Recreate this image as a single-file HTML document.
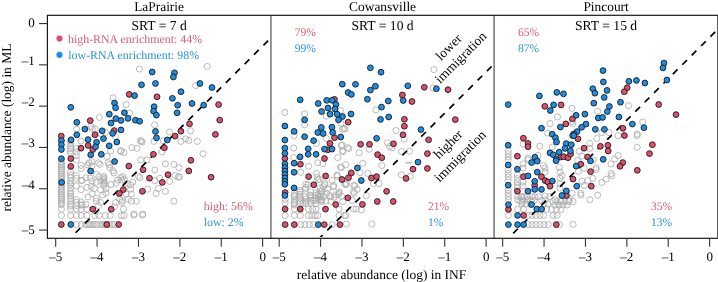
<!DOCTYPE html><html><head><meta charset="utf-8"><style>html,body{margin:0;padding:0;background:#fff}svg{display:block;will-change:transform}text{font-family:"Liberation Serif",serif;text-rendering:geometricPrecision}</style></head><body>
<svg width="718" height="282" viewBox="0 0 718 282">
<g fill="none" stroke="#ADADAD" stroke-width="0.85">
<circle cx="139.4" cy="69.0" r="3.05"/>
<circle cx="207.2" cy="66.5" r="3.05"/>
<circle cx="195.7" cy="85.6" r="3.05"/>
<circle cx="113.1" cy="97.8" r="3.05"/>
<circle cx="126.2" cy="104.6" r="3.05"/>
<circle cx="129.6" cy="113.1" r="3.05"/>
<circle cx="99.4" cy="117.4" r="3.05"/>
<circle cx="154.6" cy="124.9" r="3.05"/>
<circle cx="169.5" cy="132.0" r="3.05"/>
<circle cx="190.5" cy="130.8" r="3.05"/>
<circle cx="180.9" cy="141.4" r="3.05"/>
<circle cx="185.6" cy="138.9" r="3.05"/>
<circle cx="188.8" cy="140.4" r="3.05"/>
<circle cx="197.3" cy="141.4" r="3.05"/>
<circle cx="163.3" cy="140.8" r="3.05"/>
<circle cx="140.4" cy="140.7" r="3.05"/>
<circle cx="142.2" cy="142.1" r="3.05"/>
<circle cx="131.9" cy="147.6" r="3.05"/>
<circle cx="136.9" cy="148.3" r="3.05"/>
<circle cx="140.6" cy="159.9" r="3.05"/>
<circle cx="147.0" cy="159.9" r="3.05"/>
<circle cx="161.8" cy="152.0" r="3.05"/>
<circle cx="165.4" cy="163.8" r="3.05"/>
<circle cx="173.9" cy="164.4" r="3.05"/>
<circle cx="178.9" cy="167.7" r="3.05"/>
<circle cx="154.8" cy="170.0" r="3.05"/>
<circle cx="138.4" cy="176.2" r="3.05"/>
<circle cx="122.8" cy="176.6" r="3.05"/>
<circle cx="175.3" cy="175.5" r="3.05"/>
<circle cx="179.6" cy="176.9" r="3.05"/>
<circle cx="141.3" cy="141.4" r="3.05"/>
<circle cx="159.7" cy="178.3" r="3.05"/>
<circle cx="154.0" cy="141.4" r="3.05"/>
<circle cx="203.1" cy="153.8" r="3.05"/>
<circle cx="139.9" cy="177.8" r="3.05"/>
<circle cx="124.3" cy="179.3" r="3.05"/>
<circle cx="132.8" cy="182.1" r="3.05"/>
<circle cx="130.6" cy="185.0" r="3.05"/>
<circle cx="130.6" cy="189.2" r="3.05"/>
<circle cx="131.3" cy="194.1" r="3.05"/>
<circle cx="147.7" cy="189.2" r="3.05"/>
<circle cx="154.8" cy="180.7" r="3.05"/>
<circle cx="158.3" cy="188.5" r="3.05"/>
<circle cx="156.2" cy="193.4" r="3.05"/>
<circle cx="165.4" cy="191.3" r="3.05"/>
<circle cx="169.6" cy="181.4" r="3.05"/>
<circle cx="178.2" cy="177.1" r="3.05"/>
<circle cx="173.9" cy="201.2" r="3.05"/>
<circle cx="131.3" cy="201.2" r="3.05"/>
<circle cx="136.3" cy="201.2" r="3.05"/>
<circle cx="122.1" cy="200.5" r="3.05"/>
<circle cx="123.5" cy="209.0" r="3.05"/>
<circle cx="134.2" cy="214.0" r="3.05"/>
<circle cx="142.7" cy="214.0" r="3.05"/>
<circle cx="133.7" cy="215.1" r="3.05"/>
<circle cx="142.5" cy="215.1" r="3.05"/>
<circle cx="61.4" cy="161.5" r="3.05"/>
<circle cx="61.4" cy="163.3" r="3.05"/>
<circle cx="61.4" cy="165.1" r="3.05"/>
<circle cx="61.4" cy="166.9" r="3.05"/>
<circle cx="61.4" cy="168.7" r="3.05"/>
<circle cx="61.4" cy="170.5" r="3.05"/>
<circle cx="61.4" cy="172.3" r="3.05"/>
<circle cx="61.4" cy="174.1" r="3.05"/>
<circle cx="61.4" cy="175.9" r="3.05"/>
<circle cx="61.4" cy="177.7" r="3.05"/>
<circle cx="61.4" cy="179.5" r="3.05"/>
<circle cx="61.4" cy="181.3" r="3.05"/>
<circle cx="61.4" cy="183.1" r="3.05"/>
<circle cx="61.4" cy="184.9" r="3.05"/>
<circle cx="61.4" cy="186.7" r="3.05"/>
<circle cx="61.4" cy="188.5" r="3.05"/>
<circle cx="61.4" cy="190.3" r="3.05"/>
<circle cx="61.4" cy="192.1" r="3.05"/>
<circle cx="61.4" cy="193.9" r="3.05"/>
<circle cx="61.4" cy="195.7" r="3.05"/>
<circle cx="61.4" cy="197.5" r="3.05"/>
<circle cx="61.4" cy="199.3" r="3.05"/>
<circle cx="61.4" cy="201.1" r="3.05"/>
<circle cx="61.4" cy="202.9" r="3.05"/>
<circle cx="61.4" cy="204.7" r="3.05"/>
<circle cx="61.4" cy="209.2" r="3.05"/>
<circle cx="61.4" cy="215.4" r="3.05"/>
<circle cx="70.6" cy="141.0" r="3.05"/>
<circle cx="70.6" cy="143.5" r="3.05"/>
<circle cx="70.6" cy="146.0" r="3.05"/>
<circle cx="70.6" cy="148.5" r="3.05"/>
<circle cx="70.6" cy="151.0" r="3.05"/>
<circle cx="70.6" cy="153.5" r="3.05"/>
<circle cx="70.6" cy="171.8" r="3.05"/>
<circle cx="70.6" cy="175.0" r="3.05"/>
<circle cx="70.6" cy="177.7" r="3.05"/>
<circle cx="70.6" cy="181.0" r="3.05"/>
<circle cx="70.6" cy="183.2" r="3.05"/>
<circle cx="70.6" cy="184.8" r="3.05"/>
<circle cx="70.6" cy="188.0" r="3.05"/>
<circle cx="70.6" cy="191.7" r="3.05"/>
<circle cx="70.6" cy="193.8" r="3.05"/>
<circle cx="70.6" cy="196.0" r="3.05"/>
<circle cx="70.6" cy="198.6" r="3.05"/>
<circle cx="70.6" cy="201.3" r="3.05"/>
<circle cx="70.6" cy="204.0" r="3.05"/>
<circle cx="70.6" cy="206.0" r="3.05"/>
<circle cx="70.6" cy="209.3" r="3.05"/>
<circle cx="70.6" cy="215.5" r="3.05"/>
<circle cx="76.4" cy="152.1" r="3.05"/>
<circle cx="76.4" cy="155.9" r="3.05"/>
<circle cx="76.4" cy="160.0" r="3.05"/>
<circle cx="76.4" cy="175.5" r="3.05"/>
<circle cx="76.4" cy="178.2" r="3.05"/>
<circle cx="76.4" cy="185.9" r="3.05"/>
<circle cx="76.4" cy="199.7" r="3.05"/>
<circle cx="76.4" cy="202.3" r="3.05"/>
<circle cx="76.4" cy="205.5" r="3.05"/>
<circle cx="76.4" cy="209.3" r="3.05"/>
<circle cx="76.4" cy="215.5" r="3.05"/>
<circle cx="76.4" cy="224.5" r="3.05"/>
<circle cx="81.1" cy="165.4" r="3.05"/>
<circle cx="81.1" cy="168.6" r="3.05"/>
<circle cx="81.1" cy="180.5" r="3.05"/>
<circle cx="81.1" cy="189.6" r="3.05"/>
<circle cx="81.1" cy="202.0" r="3.05"/>
<circle cx="81.1" cy="205.0" r="3.05"/>
<circle cx="81.1" cy="209.3" r="3.05"/>
<circle cx="81.1" cy="215.5" r="3.05"/>
<circle cx="81.1" cy="224.5" r="3.05"/>
<circle cx="89.1" cy="162.8" r="3.05"/>
<circle cx="88.0" cy="164.9" r="3.05"/>
<circle cx="85.9" cy="177.7" r="3.05"/>
<circle cx="87.0" cy="187.4" r="3.05"/>
<circle cx="88.0" cy="197.0" r="3.05"/>
<circle cx="85.9" cy="204.5" r="3.05"/>
<circle cx="82.2" cy="205.0" r="3.05"/>
<circle cx="87.0" cy="215.4" r="3.05"/>
<circle cx="87.0" cy="209.2" r="3.05"/>
<circle cx="85.5" cy="224.5" r="3.05"/>
<circle cx="91.8" cy="161.7" r="3.05"/>
<circle cx="91.8" cy="166.0" r="3.05"/>
<circle cx="90.2" cy="178.2" r="3.05"/>
<circle cx="92.1" cy="181.2" r="3.05"/>
<circle cx="91.2" cy="186.4" r="3.05"/>
<circle cx="92.3" cy="193.8" r="3.05"/>
<circle cx="94.3" cy="188.6" r="3.05"/>
<circle cx="89.0" cy="224.5" r="3.05"/>
<circle cx="93.0" cy="224.5" r="3.05"/>
<circle cx="98.5" cy="162.8" r="3.05"/>
<circle cx="100.1" cy="164.4" r="3.05"/>
<circle cx="96.4" cy="174.5" r="3.05"/>
<circle cx="99.0" cy="176.6" r="3.05"/>
<circle cx="96.4" cy="182.3" r="3.05"/>
<circle cx="100.6" cy="189.7" r="3.05"/>
<circle cx="96.4" cy="198.2" r="3.05"/>
<circle cx="100.6" cy="202.5" r="3.05"/>
<circle cx="98.5" cy="205.7" r="3.05"/>
<circle cx="94.8" cy="215.5" r="3.05"/>
<circle cx="99.1" cy="215.5" r="3.05"/>
<circle cx="97.0" cy="224.5" r="3.05"/>
<circle cx="100.5" cy="224.5" r="3.05"/>
<circle cx="107.0" cy="156.4" r="3.05"/>
<circle cx="102.8" cy="195.0" r="3.05"/>
<circle cx="106.0" cy="192.9" r="3.05"/>
<circle cx="106.0" cy="188.6" r="3.05"/>
<circle cx="105.3" cy="215.5" r="3.05"/>
<circle cx="104.0" cy="224.5" r="3.05"/>
<circle cx="110.7" cy="151.1" r="3.05"/>
<circle cx="108.1" cy="162.8" r="3.05"/>
<circle cx="109.7" cy="167.6" r="3.05"/>
<circle cx="112.9" cy="170.7" r="3.05"/>
<circle cx="113.9" cy="172.9" r="3.05"/>
<circle cx="111.3" cy="184.4" r="3.05"/>
<circle cx="115.5" cy="202.5" r="3.05"/>
<circle cx="114.5" cy="206.7" r="3.05"/>
<circle cx="110.3" cy="215.5" r="3.05"/>
<circle cx="112.0" cy="224.5" r="3.05"/>
<circle cx="115.0" cy="224.5" r="3.05"/>
<circle cx="109.0" cy="224.5" r="3.05"/>
<circle cx="120.9" cy="151.6" r="3.05"/>
<circle cx="116.1" cy="183.3" r="3.05"/>
<circle cx="117.7" cy="180.1" r="3.05"/>
<circle cx="121.9" cy="180.1" r="3.05"/>
<circle cx="119.8" cy="199.3" r="3.05"/>
<circle cx="121.9" cy="202.5" r="3.05"/>
<circle cx="121.4" cy="215.5" r="3.05"/>
<circle cx="124.0" cy="152.7" r="3.05"/>
<circle cx="127.2" cy="183.3" r="3.05"/>
<circle cx="126.2" cy="194.0" r="3.05"/>
<circle cx="128.3" cy="199.3" r="3.05"/>
<circle cx="124.0" cy="215.5" r="3.05"/>
<circle cx="76.7" cy="129.3" r="3.05"/>
<circle cx="92.3" cy="128.7" r="3.05"/>
<circle cx="76.8" cy="148.5" r="3.05"/>
<circle cx="81.0" cy="141.0" r="3.05"/>
<circle cx="101.0" cy="133.6" r="3.05"/>
<circle cx="109.4" cy="164.8" r="3.05"/>
<circle cx="120.8" cy="150.6" r="3.05"/>
<circle cx="120.8" cy="177.6" r="3.05"/>
<circle cx="96.4" cy="201.0" r="3.05"/>
<circle cx="100.6" cy="181.0" r="3.05"/>
<circle cx="104.5" cy="183.5" r="3.05"/>
<circle cx="82.2" cy="180.5" r="3.05"/>
<circle cx="103.8" cy="176.5" r="3.05"/>
<circle cx="103.8" cy="178.0" r="3.05"/>
<circle cx="103.8" cy="179.5" r="3.05"/>
<circle cx="103.8" cy="181.0" r="3.05"/>
<circle cx="103.8" cy="182.5" r="3.05"/>
<circle cx="103.8" cy="185.5" r="3.05"/>
<circle cx="87.5" cy="224.5" r="3.05"/>
<circle cx="90.5" cy="224.5" r="3.05"/>
<circle cx="95.0" cy="224.5" r="3.05"/>
<circle cx="102.5" cy="224.5" r="3.05"/>
<circle cx="105.5" cy="224.5" r="3.05"/>
<circle cx="107.0" cy="224.5" r="3.05"/>
<circle cx="61.4" cy="140.5" r="3.05"/>
<circle cx="91.0" cy="126.5" r="3.05"/>
<circle cx="95.0" cy="129.0" r="3.05"/>
<circle cx="105.5" cy="132.5" r="3.05"/>
<circle cx="115.5" cy="136.6" r="3.05"/>
<circle cx="284.8" cy="112.5" r="3.05"/>
<circle cx="304.6" cy="113.8" r="3.05"/>
<circle cx="375.9" cy="109.9" r="3.05"/>
<circle cx="340.4" cy="110.6" r="3.05"/>
<circle cx="326.2" cy="116.2" r="3.05"/>
<circle cx="304.6" cy="124.8" r="3.05"/>
<circle cx="341.0" cy="123.3" r="3.05"/>
<circle cx="343.9" cy="128.3" r="3.05"/>
<circle cx="294.1" cy="135.5" r="3.05"/>
<circle cx="316.4" cy="143.4" r="3.05"/>
<circle cx="326.3" cy="138.4" r="3.05"/>
<circle cx="342.6" cy="129.2" r="3.05"/>
<circle cx="341.2" cy="145.5" r="3.05"/>
<circle cx="347.6" cy="147.7" r="3.05"/>
<circle cx="342.6" cy="151.9" r="3.05"/>
<circle cx="337.7" cy="157.6" r="3.05"/>
<circle cx="293.7" cy="157.6" r="3.05"/>
<circle cx="293.7" cy="148.1" r="3.05"/>
<circle cx="396.1" cy="130.5" r="3.05"/>
<circle cx="345.0" cy="129.0" r="3.05"/>
<circle cx="433.9" cy="69.6" r="3.05"/>
<circle cx="433.1" cy="88.1" r="3.05"/>
<circle cx="404.2" cy="139.1" r="3.05"/>
<circle cx="342.1" cy="145.0" r="3.05"/>
<circle cx="348.8" cy="148.5" r="3.05"/>
<circle cx="342.8" cy="150.6" r="3.05"/>
<circle cx="359.1" cy="152.8" r="3.05"/>
<circle cx="369.1" cy="149.2" r="3.05"/>
<circle cx="362.7" cy="163.4" r="3.05"/>
<circle cx="345.7" cy="164.8" r="3.05"/>
<circle cx="341.4" cy="167.7" r="3.05"/>
<circle cx="381.8" cy="165.5" r="3.05"/>
<circle cx="367.7" cy="173.3" r="3.05"/>
<circle cx="387.5" cy="142.8" r="3.05"/>
<circle cx="389.6" cy="146.4" r="3.05"/>
<circle cx="391.8" cy="147.8" r="3.05"/>
<circle cx="409.5" cy="151.3" r="3.05"/>
<circle cx="359.9" cy="172.6" r="3.05"/>
<circle cx="401.4" cy="151.4" r="3.05"/>
<circle cx="401.4" cy="174.8" r="3.05"/>
<circle cx="308.6" cy="166.3" r="3.05"/>
<circle cx="300.8" cy="172.3" r="3.05"/>
<circle cx="316.4" cy="173.4" r="3.05"/>
<circle cx="317.8" cy="162.8" r="3.05"/>
<circle cx="322.8" cy="163.5" r="3.05"/>
<circle cx="340.5" cy="167.1" r="3.05"/>
<circle cx="337.0" cy="174.9" r="3.05"/>
<circle cx="332.0" cy="180.5" r="3.05"/>
<circle cx="317.8" cy="179.8" r="3.05"/>
<circle cx="307.9" cy="184.8" r="3.05"/>
<circle cx="305.0" cy="189.0" r="3.05"/>
<circle cx="300.1" cy="190.5" r="3.05"/>
<circle cx="324.9" cy="184.8" r="3.05"/>
<circle cx="327.7" cy="189.0" r="3.05"/>
<circle cx="333.4" cy="186.9" r="3.05"/>
<circle cx="339.1" cy="191.9" r="3.05"/>
<circle cx="344.8" cy="184.1" r="3.05"/>
<circle cx="322.1" cy="191.2" r="3.05"/>
<circle cx="346.4" cy="183.5" r="3.05"/>
<circle cx="354.9" cy="185.6" r="3.05"/>
<circle cx="357.1" cy="189.2" r="3.05"/>
<circle cx="354.2" cy="193.4" r="3.05"/>
<circle cx="366.3" cy="195.6" r="3.05"/>
<circle cx="373.4" cy="183.5" r="3.05"/>
<circle cx="379.0" cy="183.5" r="3.05"/>
<circle cx="353.5" cy="209.0" r="3.05"/>
<circle cx="356.3" cy="209.0" r="3.05"/>
<circle cx="361.3" cy="209.8" r="3.05"/>
<circle cx="410.2" cy="176.4" r="3.05"/>
<circle cx="344.3" cy="215.5" r="3.05"/>
<circle cx="346.4" cy="224.0" r="3.05"/>
<circle cx="371.8" cy="224.0" r="3.05"/>
<circle cx="300.8" cy="224.6" r="3.05"/>
<circle cx="305.0" cy="224.6" r="3.05"/>
<circle cx="309.3" cy="224.6" r="3.05"/>
<circle cx="313.6" cy="224.6" r="3.05"/>
<circle cx="332.3" cy="224.6" r="3.05"/>
<circle cx="285.1" cy="215.5" r="3.05"/>
<circle cx="294.3" cy="215.5" r="3.05"/>
<circle cx="300.3" cy="215.5" r="3.05"/>
<circle cx="308.4" cy="215.5" r="3.05"/>
<circle cx="311.9" cy="215.5" r="3.05"/>
<circle cx="315.3" cy="215.5" r="3.05"/>
<circle cx="317.8" cy="215.5" r="3.05"/>
<circle cx="339.1" cy="215.5" r="3.05"/>
<circle cx="345.9" cy="215.5" r="3.05"/>
<circle cx="294.3" cy="209.1" r="3.05"/>
<circle cx="308.4" cy="209.1" r="3.05"/>
<circle cx="312.7" cy="209.1" r="3.05"/>
<circle cx="316.1" cy="209.1" r="3.05"/>
<circle cx="339.1" cy="209.1" r="3.05"/>
<circle cx="285.1" cy="199.4" r="3.05"/>
<circle cx="285.1" cy="202.8" r="3.05"/>
<circle cx="294.3" cy="193.4" r="3.05"/>
<circle cx="294.3" cy="196.8" r="3.05"/>
<circle cx="294.3" cy="200.2" r="3.05"/>
<circle cx="294.3" cy="203.6" r="3.05"/>
<circle cx="305.0" cy="196.8" r="3.05"/>
<circle cx="310.0" cy="195.0" r="3.05"/>
<circle cx="313.6" cy="200.2" r="3.05"/>
<circle cx="318.7" cy="196.8" r="3.05"/>
<circle cx="322.0" cy="200.2" r="3.05"/>
<circle cx="327.0" cy="193.4" r="3.05"/>
<circle cx="330.6" cy="196.8" r="3.05"/>
<circle cx="335.7" cy="195.0" r="3.05"/>
<circle cx="339.0" cy="193.4" r="3.05"/>
<circle cx="303.0" cy="203.6" r="3.05"/>
<circle cx="316.0" cy="203.6" r="3.05"/>
<circle cx="294.2" cy="195.4" r="3.05"/>
<circle cx="294.2" cy="202.3" r="3.05"/>
<circle cx="294.2" cy="205.0" r="3.05"/>
<circle cx="300.0" cy="192.2" r="3.05"/>
<circle cx="300.0" cy="194.4" r="3.05"/>
<circle cx="300.0" cy="196.5" r="3.05"/>
<circle cx="300.0" cy="198.6" r="3.05"/>
<circle cx="300.0" cy="200.7" r="3.05"/>
<circle cx="300.0" cy="203.0" r="3.05"/>
<circle cx="305.9" cy="184.3" r="3.05"/>
<circle cx="305.9" cy="187.4" r="3.05"/>
<circle cx="305.9" cy="199.1" r="3.05"/>
<circle cx="305.9" cy="201.3" r="3.05"/>
<circle cx="305.9" cy="203.4" r="3.05"/>
<circle cx="310.7" cy="192.0" r="3.05"/>
<circle cx="310.7" cy="196.0" r="3.05"/>
<circle cx="310.7" cy="198.6" r="3.05"/>
<circle cx="310.7" cy="200.7" r="3.05"/>
<circle cx="310.7" cy="202.9" r="3.05"/>
<circle cx="316.0" cy="192.8" r="3.05"/>
<circle cx="316.0" cy="195.4" r="3.05"/>
<circle cx="316.0" cy="198.1" r="3.05"/>
<circle cx="316.0" cy="200.7" r="3.05"/>
<circle cx="320.5" cy="188.0" r="3.05"/>
<circle cx="320.5" cy="191.0" r="3.05"/>
<circle cx="320.5" cy="194.0" r="3.05"/>
<circle cx="320.5" cy="197.0" r="3.05"/>
<circle cx="320.5" cy="200.0" r="3.05"/>
<circle cx="319.3" cy="179.3" r="3.05"/>
<circle cx="333.6" cy="185.6" r="3.05"/>
<circle cx="324.6" cy="183.5" r="3.05"/>
<circle cx="323.5" cy="186.7" r="3.05"/>
<circle cx="318.2" cy="194.1" r="3.05"/>
<circle cx="318.2" cy="199.5" r="3.05"/>
<circle cx="323.5" cy="196.3" r="3.05"/>
<circle cx="329.9" cy="195.7" r="3.05"/>
<circle cx="334.1" cy="197.3" r="3.05"/>
<circle cx="338.4" cy="194.7" r="3.05"/>
<circle cx="341.6" cy="196.3" r="3.05"/>
<circle cx="345.9" cy="184.6" r="3.05"/>
<circle cx="353.8" cy="185.6" r="3.05"/>
<circle cx="353.3" cy="192.0" r="3.05"/>
<circle cx="352.2" cy="200.5" r="3.05"/>
<circle cx="342.7" cy="201.6" r="3.05"/>
<circle cx="325.6" cy="201.1" r="3.05"/>
<circle cx="331.0" cy="201.6" r="3.05"/>
<circle cx="321.4" cy="201.6" r="3.05"/>
<circle cx="317.1" cy="177.1" r="3.05"/>
<circle cx="337.3" cy="176.1" r="3.05"/>
<circle cx="628.5" cy="105.7" r="3.05"/>
<circle cx="557.5" cy="116.9" r="3.05"/>
<circle cx="572.0" cy="108.4" r="3.05"/>
<circle cx="550.0" cy="123.6" r="3.05"/>
<circle cx="597.6" cy="111.3" r="3.05"/>
<circle cx="572.8" cy="123.4" r="3.05"/>
<circle cx="642.7" cy="122.0" r="3.05"/>
<circle cx="609.0" cy="132.6" r="3.05"/>
<circle cx="637.3" cy="134.0" r="3.05"/>
<circle cx="547.6" cy="133.0" r="3.05"/>
<circle cx="539.7" cy="146.2" r="3.05"/>
<circle cx="523.1" cy="144.1" r="3.05"/>
<circle cx="508.2" cy="153.8" r="3.05"/>
<circle cx="528.0" cy="158.3" r="3.05"/>
<circle cx="538.0" cy="155.5" r="3.05"/>
<circle cx="572.0" cy="121.4" r="3.05"/>
<circle cx="552.2" cy="147.0" r="3.05"/>
<circle cx="596.8" cy="138.5" r="3.05"/>
<circle cx="589.8" cy="143.5" r="3.05"/>
<circle cx="589.8" cy="148.4" r="3.05"/>
<circle cx="579.1" cy="151.3" r="3.05"/>
<circle cx="582.0" cy="156.2" r="3.05"/>
<circle cx="577.7" cy="160.5" r="3.05"/>
<circle cx="593.3" cy="159.8" r="3.05"/>
<circle cx="601.8" cy="132.8" r="3.05"/>
<circle cx="618.1" cy="135.7" r="3.05"/>
<circle cx="618.1" cy="155.5" r="3.05"/>
<circle cx="614.6" cy="159.1" r="3.05"/>
<circle cx="611.0" cy="164.0" r="3.05"/>
<circle cx="559.3" cy="167.6" r="3.05"/>
<circle cx="596.1" cy="167.6" r="3.05"/>
<circle cx="637.2" cy="135.6" r="3.05"/>
<circle cx="637.2" cy="147.3" r="3.05"/>
<circle cx="543.6" cy="165.7" r="3.05"/>
<circle cx="562.1" cy="175.6" r="3.05"/>
<circle cx="528.0" cy="160.0" r="3.05"/>
<circle cx="596.2" cy="169.6" r="3.05"/>
<circle cx="611.1" cy="173.5" r="3.05"/>
<circle cx="611.8" cy="175.6" r="3.05"/>
<circle cx="606.2" cy="179.1" r="3.05"/>
<circle cx="601.9" cy="182.4" r="3.05"/>
<circle cx="592.7" cy="178.4" r="3.05"/>
<circle cx="587.7" cy="180.6" r="3.05"/>
<circle cx="582.1" cy="181.3" r="3.05"/>
<circle cx="584.2" cy="185.5" r="3.05"/>
<circle cx="578.5" cy="171.3" r="3.05"/>
<circle cx="584.2" cy="168.5" r="3.05"/>
<circle cx="580.6" cy="193.3" r="3.05"/>
<circle cx="597.7" cy="195.2" r="3.05"/>
<circle cx="572.1" cy="193.3" r="3.05"/>
<circle cx="589.9" cy="199.7" r="3.05"/>
<circle cx="581.0" cy="195.0" r="3.05"/>
<circle cx="573.1" cy="224.4" r="3.05"/>
<circle cx="528.3" cy="224.6" r="3.05"/>
<circle cx="532.0" cy="224.6" r="3.05"/>
<circle cx="536.0" cy="224.6" r="3.05"/>
<circle cx="540.0" cy="224.6" r="3.05"/>
<circle cx="544.0" cy="224.6" r="3.05"/>
<circle cx="548.3" cy="224.6" r="3.05"/>
<circle cx="559.5" cy="224.6" r="3.05"/>
<circle cx="508.4" cy="215.4" r="3.05"/>
<circle cx="528.3" cy="215.4" r="3.05"/>
<circle cx="532.0" cy="215.4" r="3.05"/>
<circle cx="536.0" cy="215.4" r="3.05"/>
<circle cx="540.0" cy="215.4" r="3.05"/>
<circle cx="543.5" cy="215.4" r="3.05"/>
<circle cx="553.1" cy="215.4" r="3.05"/>
<circle cx="557.1" cy="215.4" r="3.05"/>
<circle cx="517.6" cy="209.4" r="3.05"/>
<circle cx="523.6" cy="209.4" r="3.05"/>
<circle cx="546.7" cy="209.4" r="3.05"/>
<circle cx="551.5" cy="209.4" r="3.05"/>
<circle cx="556.3" cy="209.4" r="3.05"/>
<circle cx="561.1" cy="209.4" r="3.05"/>
<circle cx="508.4" cy="196.6" r="3.05"/>
<circle cx="517.6" cy="196.6" r="3.05"/>
<circle cx="522.0" cy="196.6" r="3.05"/>
<circle cx="527.6" cy="196.6" r="3.05"/>
<circle cx="532.0" cy="196.6" r="3.05"/>
<circle cx="550.0" cy="196.6" r="3.05"/>
<circle cx="555.0" cy="199.8" r="3.05"/>
<circle cx="561.0" cy="199.8" r="3.05"/>
<circle cx="569.0" cy="199.8" r="3.05"/>
<circle cx="508.4" cy="199.8" r="3.05"/>
<circle cx="517.6" cy="199.8" r="3.05"/>
<circle cx="522.0" cy="202.2" r="3.05"/>
<circle cx="527.6" cy="199.8" r="3.05"/>
<circle cx="532.0" cy="202.2" r="3.05"/>
<circle cx="508.2" cy="170.0" r="3.05"/>
<circle cx="508.2" cy="173.5" r="3.05"/>
<circle cx="508.2" cy="177.0" r="3.05"/>
<circle cx="508.2" cy="180.5" r="3.05"/>
<circle cx="508.2" cy="190.0" r="3.05"/>
<circle cx="508.2" cy="193.5" r="3.05"/>
<circle cx="517.4" cy="175.0" r="3.05"/>
<circle cx="517.4" cy="178.5" r="3.05"/>
<circle cx="517.4" cy="182.0" r="3.05"/>
<circle cx="517.4" cy="185.5" r="3.05"/>
<circle cx="517.4" cy="188.0" r="3.05"/>
<circle cx="523.0" cy="164.0" r="3.05"/>
<circle cx="523.0" cy="168.0" r="3.05"/>
<circle cx="523.0" cy="182.0" r="3.05"/>
<circle cx="523.0" cy="186.0" r="3.05"/>
<circle cx="523.0" cy="200.0" r="3.05"/>
<circle cx="545.0" cy="168.0" r="3.05"/>
<circle cx="545.0" cy="172.0" r="3.05"/>
<circle cx="545.0" cy="196.0" r="3.05"/>
<circle cx="545.0" cy="200.0" r="3.05"/>
<circle cx="560.0" cy="172.0" r="3.05"/>
<circle cx="560.0" cy="178.0" r="3.05"/>
<circle cx="560.0" cy="184.0" r="3.05"/>
<circle cx="560.0" cy="188.0" r="3.05"/>
<circle cx="508.2" cy="150.5" r="3.05"/>
<circle cx="508.2" cy="157.0" r="3.05"/>
<circle cx="508.2" cy="160.2" r="3.05"/>
<circle cx="521.0" cy="196.8" r="3.05"/>
<circle cx="524.5" cy="196.8" r="3.05"/>
<circle cx="535.0" cy="196.8" r="3.05"/>
<circle cx="538.5" cy="196.8" r="3.05"/>
<circle cx="520.0" cy="200.5" r="3.05"/>
<circle cx="530.5" cy="200.5" r="3.05"/>
<circle cx="534.0" cy="200.5" r="3.05"/>
<circle cx="541.5" cy="200.5" r="3.05"/>
<circle cx="522.0" cy="204.0" r="3.05"/>
<circle cx="526.0" cy="204.0" r="3.05"/>
<circle cx="530.0" cy="204.0" r="3.05"/>
<circle cx="544.0" cy="204.0" r="3.05"/>
<circle cx="548.0" cy="204.0" r="3.05"/>
<circle cx="553.0" cy="201.5" r="3.05"/>
<circle cx="557.0" cy="201.5" r="3.05"/>
<circle cx="561.0" cy="201.5" r="3.05"/>
<circle cx="565.0" cy="201.5" r="3.05"/>
<circle cx="569.0" cy="201.5" r="3.05"/>
<circle cx="573.0" cy="201.5" r="3.05"/>
<circle cx="555.0" cy="205.0" r="3.05"/>
<circle cx="559.0" cy="205.0" r="3.05"/>
<circle cx="563.0" cy="205.0" r="3.05"/>
<circle cx="567.0" cy="205.0" r="3.05"/>
</g>
<line x1="405.5" y1="162.8" x2="412" y2="162.8" stroke="#ADADAD" stroke-width="1.2"/>
<defs><clipPath id="c0"><rect x="47.4" y="15.3" width="223.50" height="221.80"/></clipPath><clipPath id="c1"><rect x="270.9" y="15.3" width="223.50" height="221.80"/></clipPath><clipPath id="c2"><rect x="494.4" y="15.3" width="223.50" height="221.80"/></clipPath></defs>
<line clip-path="url(#c0)" x1="47.40" y1="260.87" x2="270.90" y2="37.85" stroke="#000" stroke-width="1.7" stroke-dasharray="6.63 6.64"/>
<line clip-path="url(#c1)" x1="270.90" y1="286.64" x2="494.40" y2="63.62" stroke="#000" stroke-width="1.7" stroke-dasharray="6.63 6.64"/>
<line clip-path="url(#c2)" x1="494.40" y1="252.20" x2="717.90" y2="29.18" stroke="#000" stroke-width="1.7" stroke-dasharray="6.63 6.64"/>
<g stroke="#1a1a1a" stroke-width="0.9">
<circle cx="129.2" cy="94.4" r="2.9" fill="#DE4F69"/>
<circle cx="157.0" cy="96.8" r="2.9" fill="#DE4F69"/>
<circle cx="90.2" cy="120.6" r="2.9" fill="#DE4F69"/>
<circle cx="114.2" cy="130.6" r="2.9" fill="#DE4F69"/>
<circle cx="61.3" cy="136.1" r="2.9" fill="#DE4F69"/>
<circle cx="94.9" cy="134.8" r="2.9" fill="#DE4F69"/>
<circle cx="88.1" cy="145.4" r="2.9" fill="#DE4F69"/>
<circle cx="81.0" cy="148.2" r="2.9" fill="#DE4F69"/>
<circle cx="92.8" cy="149.5" r="2.9" fill="#DE4F69"/>
<circle cx="153.4" cy="154.3" r="2.9" fill="#DE4F69"/>
<circle cx="218.6" cy="104.6" r="2.9" fill="#DE4F69"/>
<circle cx="219.7" cy="120.1" r="2.9" fill="#DE4F69"/>
<circle cx="189.5" cy="123.8" r="2.9" fill="#DE4F69"/>
<circle cx="180.9" cy="131.2" r="2.9" fill="#DE4F69"/>
<circle cx="175.1" cy="136.1" r="2.9" fill="#DE4F69"/>
<circle cx="215.4" cy="134.4" r="2.9" fill="#DE4F69"/>
<circle cx="164.4" cy="147.8" r="2.9" fill="#DE4F69"/>
<circle cx="128.8" cy="166.1" r="2.9" fill="#DE4F69"/>
<circle cx="143.1" cy="169.8" r="2.9" fill="#DE4F69"/>
<circle cx="149.5" cy="178.2" r="2.9" fill="#DE4F69"/>
<circle cx="168.0" cy="174.7" r="2.9" fill="#DE4F69"/>
<circle cx="190.9" cy="160.3" r="2.9" fill="#DE4F69"/>
<circle cx="188.8" cy="170.9" r="2.9" fill="#DE4F69"/>
<circle cx="211.1" cy="177.2" r="2.9" fill="#DE4F69"/>
<circle cx="70.8" cy="158.6" r="2.9" fill="#DE4F69"/>
<circle cx="70.8" cy="166.4" r="2.9" fill="#DE4F69"/>
<circle cx="123.3" cy="189.6" r="2.9" fill="#DE4F69"/>
<circle cx="119.3" cy="193.4" r="2.9" fill="#DE4F69"/>
<circle cx="162.3" cy="182.4" r="2.9" fill="#DE4F69"/>
<circle cx="142.4" cy="191.3" r="2.9" fill="#DE4F69"/>
<circle cx="92.8" cy="209.2" r="2.9" fill="#DE4F69"/>
<circle cx="111.2" cy="209.2" r="2.9" fill="#DE4F69"/>
<circle cx="61.3" cy="224.5" r="2.9" fill="#DE4F69"/>
<circle cx="106.8" cy="224.5" r="2.9" fill="#DE4F69"/>
<circle cx="118.7" cy="224.5" r="2.9" fill="#DE4F69"/>
<circle cx="70.8" cy="107.3" r="2.9" fill="#1C8EE3"/>
<circle cx="152.2" cy="72.0" r="2.9" fill="#1C8EE3"/>
<circle cx="174.5" cy="72.8" r="2.9" fill="#1C8EE3"/>
<circle cx="173.4" cy="77.0" r="2.9" fill="#1C8EE3"/>
<circle cx="141.5" cy="84.8" r="2.9" fill="#1C8EE3"/>
<circle cx="155.5" cy="83.5" r="2.9" fill="#1C8EE3"/>
<circle cx="199.9" cy="83.5" r="2.9" fill="#1C8EE3"/>
<circle cx="212.0" cy="87.5" r="2.9" fill="#1C8EE3"/>
<circle cx="181.0" cy="91.7" r="2.9" fill="#1C8EE3"/>
<circle cx="134.6" cy="95.6" r="2.9" fill="#1C8EE3"/>
<circle cx="172.4" cy="98.3" r="2.9" fill="#1C8EE3"/>
<circle cx="114.5" cy="103.1" r="2.9" fill="#1C8EE3"/>
<circle cx="115.6" cy="107.8" r="2.9" fill="#1C8EE3"/>
<circle cx="177.7" cy="105.2" r="2.9" fill="#1C8EE3"/>
<circle cx="192.0" cy="103.5" r="2.9" fill="#1C8EE3"/>
<circle cx="203.7" cy="105.2" r="2.9" fill="#1C8EE3"/>
<circle cx="154.1" cy="106.7" r="2.9" fill="#1C8EE3"/>
<circle cx="153.6" cy="111.2" r="2.9" fill="#1C8EE3"/>
<circle cx="156.4" cy="115.1" r="2.9" fill="#1C8EE3"/>
<circle cx="109.3" cy="114.2" r="2.9" fill="#1C8EE3"/>
<circle cx="124.4" cy="112.7" r="2.9" fill="#1C8EE3"/>
<circle cx="177.1" cy="112.8" r="2.9" fill="#1C8EE3"/>
<circle cx="76.8" cy="122.3" r="2.9" fill="#1C8EE3"/>
<circle cx="111.0" cy="123.0" r="2.9" fill="#1C8EE3"/>
<circle cx="115.8" cy="118.6" r="2.9" fill="#1C8EE3"/>
<circle cx="121.0" cy="120.4" r="2.9" fill="#1C8EE3"/>
<circle cx="128.0" cy="118.4" r="2.9" fill="#1C8EE3"/>
<circle cx="135.5" cy="120.2" r="2.9" fill="#1C8EE3"/>
<circle cx="139.7" cy="121.3" r="2.9" fill="#1C8EE3"/>
<circle cx="84.9" cy="129.1" r="2.9" fill="#1C8EE3"/>
<circle cx="102.2" cy="130.8" r="2.9" fill="#1C8EE3"/>
<circle cx="112.6" cy="133.4" r="2.9" fill="#1C8EE3"/>
<circle cx="121.0" cy="129.9" r="2.9" fill="#1C8EE3"/>
<circle cx="155.5" cy="131.4" r="2.9" fill="#1C8EE3"/>
<circle cx="156.5" cy="137.8" r="2.9" fill="#1C8EE3"/>
<circle cx="167.3" cy="140.0" r="2.9" fill="#1C8EE3"/>
<circle cx="61.4" cy="140.5" r="2.9" fill="#1C8EE3"/>
<circle cx="61.4" cy="144.7" r="2.9" fill="#1C8EE3"/>
<circle cx="61.4" cy="149.5" r="2.9" fill="#1C8EE3"/>
<circle cx="61.4" cy="158.7" r="2.9" fill="#1C8EE3"/>
<circle cx="76.8" cy="134.8" r="2.9" fill="#1C8EE3"/>
<circle cx="71.0" cy="139.8" r="2.9" fill="#1C8EE3"/>
<circle cx="88.1" cy="139.6" r="2.9" fill="#1C8EE3"/>
<circle cx="103.5" cy="138.6" r="2.9" fill="#1C8EE3"/>
<circle cx="96.6" cy="142.2" r="2.9" fill="#1C8EE3"/>
<circle cx="95.5" cy="146.8" r="2.9" fill="#1C8EE3"/>
<circle cx="109.2" cy="145.8" r="2.9" fill="#1C8EE3"/>
<circle cx="116.8" cy="142.0" r="2.9" fill="#1C8EE3"/>
<circle cx="90.7" cy="154.8" r="2.9" fill="#1C8EE3"/>
<circle cx="101.3" cy="154.3" r="2.9" fill="#1C8EE3"/>
<circle cx="114.6" cy="161.5" r="2.9" fill="#1C8EE3"/>
<circle cx="90.6" cy="171.0" r="2.9" fill="#1C8EE3"/>
<circle cx="61.6" cy="182.4" r="2.9" fill="#1C8EE3"/>
<circle cx="70.8" cy="224.5" r="2.9" fill="#1C8EE3"/>
<circle cx="334.5" cy="99.3" r="2.9" fill="#DE4F69"/>
<circle cx="402.4" cy="95.0" r="2.9" fill="#DE4F69"/>
<circle cx="412.0" cy="101.5" r="2.9" fill="#DE4F69"/>
<circle cx="424.3" cy="87.3" r="2.9" fill="#DE4F69"/>
<circle cx="448.0" cy="89.7" r="2.9" fill="#DE4F69"/>
<circle cx="348.2" cy="122.2" r="2.9" fill="#DE4F69"/>
<circle cx="404.4" cy="119.3" r="2.9" fill="#DE4F69"/>
<circle cx="404.4" cy="126.2" r="2.9" fill="#DE4F69"/>
<circle cx="403.0" cy="134.8" r="2.9" fill="#DE4F69"/>
<circle cx="393.5" cy="143.8" r="2.9" fill="#DE4F69"/>
<circle cx="428.6" cy="139.8" r="2.9" fill="#DE4F69"/>
<circle cx="455.3" cy="119.6" r="2.9" fill="#DE4F69"/>
<circle cx="334.5" cy="137.7" r="2.9" fill="#DE4F69"/>
<circle cx="329.9" cy="143.4" r="2.9" fill="#DE4F69"/>
<circle cx="327.7" cy="149.8" r="2.9" fill="#DE4F69"/>
<circle cx="324.5" cy="158.5" r="2.9" fill="#DE4F69"/>
<circle cx="284.9" cy="158.5" r="2.9" fill="#DE4F69"/>
<circle cx="360.6" cy="144.3" r="2.9" fill="#DE4F69"/>
<circle cx="369.5" cy="144.3" r="2.9" fill="#DE4F69"/>
<circle cx="377.6" cy="154.6" r="2.9" fill="#DE4F69"/>
<circle cx="381.8" cy="157.7" r="2.9" fill="#DE4F69"/>
<circle cx="413.0" cy="169.2" r="2.9" fill="#DE4F69"/>
<circle cx="406.0" cy="178.4" r="2.9" fill="#DE4F69"/>
<circle cx="351.3" cy="172.9" r="2.9" fill="#DE4F69"/>
<circle cx="348.5" cy="177.6" r="2.9" fill="#DE4F69"/>
<circle cx="342.0" cy="179.5" r="2.9" fill="#DE4F69"/>
<circle cx="371.5" cy="178.0" r="2.9" fill="#DE4F69"/>
<circle cx="376.6" cy="176.6" r="2.9" fill="#DE4F69"/>
<circle cx="300.4" cy="164.2" r="2.9" fill="#DE4F69"/>
<circle cx="308.6" cy="176.6" r="2.9" fill="#DE4F69"/>
<circle cx="325.6" cy="176.0" r="2.9" fill="#DE4F69"/>
<circle cx="313.8" cy="184.8" r="2.9" fill="#DE4F69"/>
<circle cx="427.4" cy="153.6" r="2.9" fill="#DE4F69"/>
<circle cx="427.4" cy="168.4" r="2.9" fill="#DE4F69"/>
<circle cx="285.1" cy="192.6" r="2.9" fill="#DE4F69"/>
<circle cx="285.1" cy="209.1" r="2.9" fill="#DE4F69"/>
<circle cx="300.3" cy="209.1" r="2.9" fill="#DE4F69"/>
<circle cx="325.5" cy="209.1" r="2.9" fill="#DE4F69"/>
<circle cx="335.7" cy="204.5" r="2.9" fill="#DE4F69"/>
<circle cx="347.8" cy="197.8" r="2.9" fill="#DE4F69"/>
<circle cx="285.1" cy="224.6" r="2.9" fill="#DE4F69"/>
<circle cx="294.3" cy="224.6" r="2.9" fill="#DE4F69"/>
<circle cx="324.3" cy="224.6" r="2.9" fill="#DE4F69"/>
<circle cx="339.9" cy="224.6" r="2.9" fill="#DE4F69"/>
<circle cx="386.6" cy="191.3" r="2.9" fill="#DE4F69"/>
<circle cx="377.3" cy="201.5" r="2.9" fill="#DE4F69"/>
<circle cx="393.2" cy="201.5" r="2.9" fill="#DE4F69"/>
<circle cx="362.4" cy="204.4" r="2.9" fill="#DE4F69"/>
<circle cx="370.4" cy="67.8" r="2.9" fill="#1C8EE3"/>
<circle cx="381.0" cy="72.2" r="2.9" fill="#1C8EE3"/>
<circle cx="342.3" cy="84.2" r="2.9" fill="#1C8EE3"/>
<circle cx="355.5" cy="84.3" r="2.9" fill="#1C8EE3"/>
<circle cx="375.4" cy="86.2" r="2.9" fill="#1C8EE3"/>
<circle cx="370.4" cy="90.1" r="2.9" fill="#1C8EE3"/>
<circle cx="348.1" cy="92.5" r="2.9" fill="#1C8EE3"/>
<circle cx="351.4" cy="94.4" r="2.9" fill="#1C8EE3"/>
<circle cx="367.4" cy="99.2" r="2.9" fill="#1C8EE3"/>
<circle cx="300.2" cy="99.8" r="2.9" fill="#1C8EE3"/>
<circle cx="318.2" cy="103.5" r="2.9" fill="#1C8EE3"/>
<circle cx="326.7" cy="100.3" r="2.9" fill="#1C8EE3"/>
<circle cx="332.1" cy="100.3" r="2.9" fill="#1C8EE3"/>
<circle cx="335.9" cy="104.5" r="2.9" fill="#1C8EE3"/>
<circle cx="328.0" cy="108.0" r="2.9" fill="#1C8EE3"/>
<circle cx="335.0" cy="109.0" r="2.9" fill="#1C8EE3"/>
<circle cx="321.6" cy="111.5" r="2.9" fill="#1C8EE3"/>
<circle cx="330.1" cy="114.2" r="2.9" fill="#1C8EE3"/>
<circle cx="337.2" cy="114.2" r="2.9" fill="#1C8EE3"/>
<circle cx="342.5" cy="116.5" r="2.9" fill="#1C8EE3"/>
<circle cx="338.5" cy="119.8" r="2.9" fill="#1C8EE3"/>
<circle cx="351.0" cy="114.0" r="2.9" fill="#1C8EE3"/>
<circle cx="304.6" cy="119.9" r="2.9" fill="#1C8EE3"/>
<circle cx="321.3" cy="127.4" r="2.9" fill="#1C8EE3"/>
<circle cx="331.9" cy="127.2" r="2.9" fill="#1C8EE3"/>
<circle cx="294.1" cy="131.4" r="2.9" fill="#1C8EE3"/>
<circle cx="388.3" cy="101.0" r="2.9" fill="#1C8EE3"/>
<circle cx="403.2" cy="100.5" r="2.9" fill="#1C8EE3"/>
<circle cx="381.5" cy="107.1" r="2.9" fill="#1C8EE3"/>
<circle cx="380.5" cy="119.4" r="2.9" fill="#1C8EE3"/>
<circle cx="388.7" cy="117.0" r="2.9" fill="#1C8EE3"/>
<circle cx="420.9" cy="129.6" r="2.9" fill="#1C8EE3"/>
<circle cx="436.4" cy="88.7" r="2.9" fill="#1C8EE3"/>
<circle cx="407.8" cy="85.8" r="2.9" fill="#1C8EE3"/>
<circle cx="284.9" cy="126.0" r="2.9" fill="#1C8EE3"/>
<circle cx="304.6" cy="136.7" r="2.9" fill="#1C8EE3"/>
<circle cx="317.8" cy="132.5" r="2.9" fill="#1C8EE3"/>
<circle cx="323.1" cy="133.5" r="2.9" fill="#1C8EE3"/>
<circle cx="332.7" cy="132.5" r="2.9" fill="#1C8EE3"/>
<circle cx="340.8" cy="137.0" r="2.9" fill="#1C8EE3"/>
<circle cx="313.6" cy="140.6" r="2.9" fill="#1C8EE3"/>
<circle cx="284.9" cy="140.0" r="2.9" fill="#1C8EE3"/>
<circle cx="284.9" cy="148.1" r="2.9" fill="#1C8EE3"/>
<circle cx="284.9" cy="153.3" r="2.9" fill="#1C8EE3"/>
<circle cx="308.2" cy="148.8" r="2.9" fill="#1C8EE3"/>
<circle cx="308.2" cy="154.3" r="2.9" fill="#1C8EE3"/>
<circle cx="316.1" cy="154.3" r="2.9" fill="#1C8EE3"/>
<circle cx="300.1" cy="156.9" r="2.9" fill="#1C8EE3"/>
<circle cx="324.5" cy="149.1" r="2.9" fill="#1C8EE3"/>
<circle cx="332.0" cy="149.1" r="2.9" fill="#1C8EE3"/>
<circle cx="376.6" cy="138.3" r="2.9" fill="#1C8EE3"/>
<circle cx="418.0" cy="162.1" r="2.9" fill="#1C8EE3"/>
<circle cx="357.4" cy="167.9" r="2.9" fill="#1C8EE3"/>
<circle cx="361.3" cy="180.5" r="2.9" fill="#1C8EE3"/>
<circle cx="294.1" cy="163.2" r="2.9" fill="#1C8EE3"/>
<circle cx="284.9" cy="164.0" r="2.9" fill="#1C8EE3"/>
<circle cx="284.9" cy="167.5" r="2.9" fill="#1C8EE3"/>
<circle cx="284.9" cy="171.0" r="2.9" fill="#1C8EE3"/>
<circle cx="284.9" cy="174.5" r="2.9" fill="#1C8EE3"/>
<circle cx="284.9" cy="178.0" r="2.9" fill="#1C8EE3"/>
<circle cx="284.9" cy="181.2" r="2.9" fill="#1C8EE3"/>
<circle cx="284.9" cy="184.3" r="2.9" fill="#1C8EE3"/>
<circle cx="294.1" cy="172.3" r="2.9" fill="#1C8EE3"/>
<circle cx="294.1" cy="187.9" r="2.9" fill="#1C8EE3"/>
<circle cx="284.9" cy="195.4" r="2.9" fill="#1C8EE3"/>
<circle cx="318.3" cy="224.6" r="2.9" fill="#1C8EE3"/>
<circle cx="627.2" cy="87.7" r="2.9" fill="#DE4F69"/>
<circle cx="624.3" cy="91.7" r="2.9" fill="#DE4F69"/>
<circle cx="658.7" cy="104.5" r="2.9" fill="#DE4F69"/>
<circle cx="544.8" cy="106.3" r="2.9" fill="#DE4F69"/>
<circle cx="561.1" cy="104.9" r="2.9" fill="#DE4F69"/>
<circle cx="572.5" cy="118.8" r="2.9" fill="#DE4F69"/>
<circle cx="565.8" cy="123.9" r="2.9" fill="#DE4F69"/>
<circle cx="622.9" cy="128.3" r="2.9" fill="#DE4F69"/>
<circle cx="624.4" cy="135.5" r="2.9" fill="#DE4F69"/>
<circle cx="676.0" cy="114.6" r="2.9" fill="#DE4F69"/>
<circle cx="523.4" cy="138.2" r="2.9" fill="#DE4F69"/>
<circle cx="528.0" cy="143.4" r="2.9" fill="#DE4F69"/>
<circle cx="528.0" cy="146.7" r="2.9" fill="#DE4F69"/>
<circle cx="517.4" cy="156.2" r="2.9" fill="#DE4F69"/>
<circle cx="560.7" cy="157.0" r="2.9" fill="#DE4F69"/>
<circle cx="563.8" cy="156.7" r="2.9" fill="#DE4F69"/>
<circle cx="568.0" cy="157.7" r="2.9" fill="#DE4F69"/>
<circle cx="570.6" cy="154.0" r="2.9" fill="#DE4F69"/>
<circle cx="578.0" cy="138.8" r="2.9" fill="#DE4F69"/>
<circle cx="584.1" cy="148.2" r="2.9" fill="#DE4F69"/>
<circle cx="600.4" cy="146.3" r="2.9" fill="#DE4F69"/>
<circle cx="607.9" cy="145.3" r="2.9" fill="#DE4F69"/>
<circle cx="608.2" cy="151.0" r="2.9" fill="#DE4F69"/>
<circle cx="587.6" cy="157.0" r="2.9" fill="#DE4F69"/>
<circle cx="580.7" cy="164.2" r="2.9" fill="#DE4F69"/>
<circle cx="622.8" cy="162.6" r="2.9" fill="#DE4F69"/>
<circle cx="620.0" cy="166.3" r="2.9" fill="#DE4F69"/>
<circle cx="652.4" cy="144.7" r="2.9" fill="#DE4F69"/>
<circle cx="649.5" cy="153.6" r="2.9" fill="#DE4F69"/>
<circle cx="637.3" cy="170.3" r="2.9" fill="#DE4F69"/>
<circle cx="523.5" cy="176.6" r="2.9" fill="#DE4F69"/>
<circle cx="541.5" cy="176.7" r="2.9" fill="#DE4F69"/>
<circle cx="545.1" cy="180.6" r="2.9" fill="#DE4F69"/>
<circle cx="547.9" cy="182.0" r="2.9" fill="#DE4F69"/>
<circle cx="550.0" cy="186.2" r="2.9" fill="#DE4F69"/>
<circle cx="534.7" cy="185.5" r="2.9" fill="#DE4F69"/>
<circle cx="517.4" cy="191.2" r="2.9" fill="#DE4F69"/>
<circle cx="566.4" cy="195.6" r="2.9" fill="#DE4F69"/>
<circle cx="573.0" cy="179.1" r="2.9" fill="#DE4F69"/>
<circle cx="590.6" cy="171.6" r="2.9" fill="#DE4F69"/>
<circle cx="591.3" cy="186.2" r="2.9" fill="#DE4F69"/>
<circle cx="508.4" cy="209.4" r="2.9" fill="#DE4F69"/>
<circle cx="523.6" cy="215.4" r="2.9" fill="#DE4F69"/>
<circle cx="556.3" cy="224.6" r="2.9" fill="#DE4F69"/>
<circle cx="664.0" cy="63.1" r="2.9" fill="#1C8EE3"/>
<circle cx="663.0" cy="67.9" r="2.9" fill="#1C8EE3"/>
<circle cx="603.0" cy="70.6" r="2.9" fill="#1C8EE3"/>
<circle cx="603.4" cy="81.9" r="2.9" fill="#1C8EE3"/>
<circle cx="628.9" cy="81.3" r="2.9" fill="#1C8EE3"/>
<circle cx="636.4" cy="80.4" r="2.9" fill="#1C8EE3"/>
<circle cx="644.9" cy="83.0" r="2.9" fill="#1C8EE3"/>
<circle cx="666.9" cy="80.0" r="2.9" fill="#1C8EE3"/>
<circle cx="592.8" cy="88.7" r="2.9" fill="#1C8EE3"/>
<circle cx="594.9" cy="93.2" r="2.9" fill="#1C8EE3"/>
<circle cx="607.0" cy="90.4" r="2.9" fill="#1C8EE3"/>
<circle cx="604.2" cy="97.4" r="2.9" fill="#1C8EE3"/>
<circle cx="593.8" cy="103.2" r="2.9" fill="#1C8EE3"/>
<circle cx="620.5" cy="102.2" r="2.9" fill="#1C8EE3"/>
<circle cx="609.4" cy="106.5" r="2.9" fill="#1C8EE3"/>
<circle cx="508.2" cy="104.6" r="2.9" fill="#1C8EE3"/>
<circle cx="539.4" cy="95.9" r="2.9" fill="#1C8EE3"/>
<circle cx="556.8" cy="92.4" r="2.9" fill="#1C8EE3"/>
<circle cx="563.5" cy="93.8" r="2.9" fill="#1C8EE3"/>
<circle cx="553.6" cy="104.9" r="2.9" fill="#1C8EE3"/>
<circle cx="550.3" cy="110.5" r="2.9" fill="#1C8EE3"/>
<circle cx="607.3" cy="111.6" r="2.9" fill="#1C8EE3"/>
<circle cx="584.9" cy="114.1" r="2.9" fill="#1C8EE3"/>
<circle cx="576.1" cy="115.3" r="2.9" fill="#1C8EE3"/>
<circle cx="598.3" cy="118.0" r="2.9" fill="#1C8EE3"/>
<circle cx="602.6" cy="117.4" r="2.9" fill="#1C8EE3"/>
<circle cx="618.9" cy="117.0" r="2.9" fill="#1C8EE3"/>
<circle cx="586.0" cy="124.1" r="2.9" fill="#1C8EE3"/>
<circle cx="581.6" cy="127.3" r="2.9" fill="#1C8EE3"/>
<circle cx="577.1" cy="131.6" r="2.9" fill="#1C8EE3"/>
<circle cx="573.8" cy="134.0" r="2.9" fill="#1C8EE3"/>
<circle cx="595.3" cy="129.3" r="2.9" fill="#1C8EE3"/>
<circle cx="604.4" cy="129.3" r="2.9" fill="#1C8EE3"/>
<circle cx="632.4" cy="124.1" r="2.9" fill="#1C8EE3"/>
<circle cx="643.9" cy="127.7" r="2.9" fill="#1C8EE3"/>
<circle cx="508.2" cy="145.2" r="2.9" fill="#1C8EE3"/>
<circle cx="541.5" cy="128.2" r="2.9" fill="#1C8EE3"/>
<circle cx="560.4" cy="127.1" r="2.9" fill="#1C8EE3"/>
<circle cx="552.2" cy="134.2" r="2.9" fill="#1C8EE3"/>
<circle cx="555.4" cy="137.7" r="2.9" fill="#1C8EE3"/>
<circle cx="556.5" cy="142.0" r="2.9" fill="#1C8EE3"/>
<circle cx="566.2" cy="143.6" r="2.9" fill="#1C8EE3"/>
<circle cx="571.3" cy="144.7" r="2.9" fill="#1C8EE3"/>
<circle cx="572.7" cy="135.6" r="2.9" fill="#1C8EE3"/>
<circle cx="565.0" cy="148.4" r="2.9" fill="#1C8EE3"/>
<circle cx="570.4" cy="150.8" r="2.9" fill="#1C8EE3"/>
<circle cx="550.0" cy="152.9" r="2.9" fill="#1C8EE3"/>
<circle cx="553.3" cy="154.8" r="2.9" fill="#1C8EE3"/>
<circle cx="559.2" cy="152.2" r="2.9" fill="#1C8EE3"/>
<circle cx="534.9" cy="157.2" r="2.9" fill="#1C8EE3"/>
<circle cx="573.7" cy="135.7" r="2.9" fill="#1C8EE3"/>
<circle cx="556.4" cy="159.1" r="2.9" fill="#1C8EE3"/>
<circle cx="590.5" cy="160.9" r="2.9" fill="#1C8EE3"/>
<circle cx="603.2" cy="159.3" r="2.9" fill="#1C8EE3"/>
<circle cx="576.2" cy="166.1" r="2.9" fill="#1C8EE3"/>
<circle cx="508.2" cy="165.0" r="2.9" fill="#1C8EE3"/>
<circle cx="508.2" cy="185.2" r="2.9" fill="#1C8EE3"/>
<circle cx="517.4" cy="169.2" r="2.9" fill="#1C8EE3"/>
<circle cx="531.6" cy="162.6" r="2.9" fill="#1C8EE3"/>
<circle cx="537.3" cy="161.1" r="2.9" fill="#1C8EE3"/>
<circle cx="556.1" cy="160.7" r="2.9" fill="#1C8EE3"/>
<circle cx="528.0" cy="175.9" r="2.9" fill="#1C8EE3"/>
<circle cx="537.3" cy="172.1" r="2.9" fill="#1C8EE3"/>
<circle cx="552.4" cy="181.0" r="2.9" fill="#1C8EE3"/>
<circle cx="534.7" cy="181.3" r="2.9" fill="#1C8EE3"/>
<circle cx="534.7" cy="189.4" r="2.9" fill="#1C8EE3"/>
<circle cx="528.0" cy="191.2" r="2.9" fill="#1C8EE3"/>
<circle cx="541.5" cy="189.4" r="2.9" fill="#1C8EE3"/>
<circle cx="566.3" cy="190.9" r="2.9" fill="#1C8EE3"/>
<circle cx="562.0" cy="195.5" r="2.9" fill="#1C8EE3"/>
<circle cx="576.8" cy="186.2" r="2.9" fill="#1C8EE3"/>
<circle cx="508.4" cy="204.6" r="2.9" fill="#1C8EE3"/>
<circle cx="531.5" cy="204.6" r="2.9" fill="#1C8EE3"/>
<circle cx="536.8" cy="209.1" r="2.9" fill="#1C8EE3"/>
<circle cx="541.6" cy="209.1" r="2.9" fill="#1C8EE3"/>
<circle cx="517.6" cy="215.4" r="2.9" fill="#1C8EE3"/>
<circle cx="508.4" cy="224.6" r="2.9" fill="#1C8EE3"/>
<circle cx="517.6" cy="224.6" r="2.9" fill="#1C8EE3"/>
<circle cx="523.6" cy="224.6" r="2.9" fill="#1C8EE3"/>
</g>
<g stroke="#7a7a7a" stroke-width="1.6">
<line x1="270.9" y1="15.3" x2="270.9" y2="238.3"/><line x1="494.1" y1="15.3" x2="494.1" y2="238.3"/>
</g>
<g stroke="#111" stroke-width="1.15" fill="none">
<rect x="47.4" y="15.3" width="670.5" height="223.0"/>
</g>
<g stroke="#333" stroke-width="1.1">
<line x1="39" y1="23.56" x2="47.4" y2="23.56"/>
<line x1="39" y1="64.86" x2="47.4" y2="64.86"/>
<line x1="39" y1="106.16" x2="47.4" y2="106.16"/>
<line x1="39" y1="147.46" x2="47.4" y2="147.46"/>
<line x1="39" y1="188.76" x2="47.4" y2="188.76"/>
<line x1="39" y1="230.06" x2="47.4" y2="230.06"/>
<line x1="55.68" y1="238.3" x2="55.68" y2="246.8"/>
<line x1="97.07" y1="238.3" x2="97.07" y2="246.8"/>
<line x1="138.46" y1="238.3" x2="138.46" y2="246.8"/>
<line x1="179.85" y1="238.3" x2="179.85" y2="246.8"/>
<line x1="221.24" y1="238.3" x2="221.24" y2="246.8"/>
<line x1="262.63" y1="238.3" x2="262.63" y2="246.8"/>
<line x1="279.18" y1="238.3" x2="279.18" y2="246.8"/>
<line x1="320.57" y1="238.3" x2="320.57" y2="246.8"/>
<line x1="361.96" y1="238.3" x2="361.96" y2="246.8"/>
<line x1="403.35" y1="238.3" x2="403.35" y2="246.8"/>
<line x1="444.74" y1="238.3" x2="444.74" y2="246.8"/>
<line x1="486.13" y1="238.3" x2="486.13" y2="246.8"/>
<line x1="502.68" y1="238.3" x2="502.68" y2="246.8"/>
<line x1="544.07" y1="238.3" x2="544.07" y2="246.8"/>
<line x1="585.46" y1="238.3" x2="585.46" y2="246.8"/>
<line x1="626.85" y1="238.3" x2="626.85" y2="246.8"/>
<line x1="668.24" y1="238.3" x2="668.24" y2="246.8"/>
<line x1="709.63" y1="238.3" x2="709.63" y2="246.8"/>
</g>
<text x="34.8" y="27.35" font-size="13" text-anchor="end">0</text>
<text x="34.8" y="64.55" font-size="13" text-anchor="end">–1</text>
<text x="34.8" y="106.15" font-size="13" text-anchor="end">–2</text>
<text x="34.8" y="147.25" font-size="13" text-anchor="end">–3</text>
<text x="34.8" y="188.75" font-size="13" text-anchor="end">–4</text>
<text x="34.8" y="234.15" font-size="13" text-anchor="end">–5</text>
<text x="55.68" y="261" font-size="13" text-anchor="middle">–5</text>
<text x="97.07" y="261" font-size="13" text-anchor="middle">–4</text>
<text x="138.46" y="261" font-size="13" text-anchor="middle">–3</text>
<text x="179.85" y="261" font-size="13" text-anchor="middle">–2</text>
<text x="221.24" y="261" font-size="13" text-anchor="middle">–1</text>
<text x="262.63" y="261" font-size="13" text-anchor="middle">0</text>
<text x="279.18" y="261" font-size="13" text-anchor="middle">–5</text>
<text x="320.57" y="261" font-size="13" text-anchor="middle">–4</text>
<text x="361.96" y="261" font-size="13" text-anchor="middle">–3</text>
<text x="403.35" y="261" font-size="13" text-anchor="middle">–2</text>
<text x="444.74" y="261" font-size="13" text-anchor="middle">–1</text>
<text x="486.13" y="261" font-size="13" text-anchor="middle">0</text>
<text x="502.68" y="261" font-size="13" text-anchor="middle">–5</text>
<text x="544.07" y="261" font-size="13" text-anchor="middle">–4</text>
<text x="585.46" y="261" font-size="13" text-anchor="middle">–3</text>
<text x="626.85" y="261" font-size="13" text-anchor="middle">–2</text>
<text x="668.24" y="261" font-size="13" text-anchor="middle">–1</text>
<text x="709.63" y="261" font-size="13" text-anchor="middle">0</text>
<text x="159.1" y="11" font-size="13.4" text-anchor="middle">LaPrairie</text>
<text x="382.6" y="11" font-size="13.4" text-anchor="middle">Cowansville</text>
<text x="606.1" y="11" font-size="13.4" text-anchor="middle">Pincourt</text>
<text x="159.1" y="29.6" font-size="13.6" text-anchor="middle">SRT = 7 d</text>
<text x="382.6" y="29.6" font-size="13.6" text-anchor="middle">SRT = 10 d</text>
<text x="606.1" y="29.6" font-size="13.6" text-anchor="middle">SRT = 15 d</text>
<circle cx="59.5" cy="38.5" r="3.1" fill="#DE4F69"/>
<circle cx="59.5" cy="54.8" r="3.1" fill="#1C8EE3"/>
<text x="68" y="42.5" font-size="11.9" fill="#DE5C74">high-RNA enrichment: 44%</text>
<text x="68.3" y="58.5" font-size="11.9" fill="#2A92E0">low-RNA enrichment: 98%</text>
<text x="203.7" y="209.9" font-size="11.9" fill="#DE5C74">high: 56%</text>
<text x="203.7" y="225.8" font-size="11.9" fill="#2A92E0">low: 2%</text>
<text x="294.7" y="35.9" font-size="11.6" fill="#DE5C74">79%</text>
<text x="294.7" y="52.2" font-size="11.6" fill="#2A92E0">99%</text>
<text x="428" y="209.7" font-size="11.6" fill="#DE5C74">21%</text>
<text x="428" y="225.8" font-size="11.6" fill="#2A92E0">1%</text>
<text x="518" y="35.9" font-size="11.6" fill="#DE5C74">65%</text>
<text x="518" y="52.2" font-size="11.6" fill="#2A92E0">87%</text>
<text x="650.9" y="209.5" font-size="11.6" fill="#DE5C74">35%</text>
<text x="650.9" y="225.8" font-size="11.6" fill="#2A92E0">13%</text>
<g font-size="13.5" text-anchor="middle">
<text transform="translate(451.8,50.3) rotate(-45)">lower</text>
<text transform="translate(463.8,60.6) rotate(-45)">immigration</text>
<text transform="translate(451.2,147.2) rotate(-45)">higher</text>
<text transform="translate(463.2,159.2) rotate(-45)">immigration</text>
</g>
<text x="381.5" y="278.5" font-size="13.45" text-anchor="middle">relative abundance (log) in INF</text>
<text transform="translate(11,127.6) rotate(-90)" font-size="13.45" text-anchor="middle">relative abundance (log) in ML</text>
</svg></body></html>
